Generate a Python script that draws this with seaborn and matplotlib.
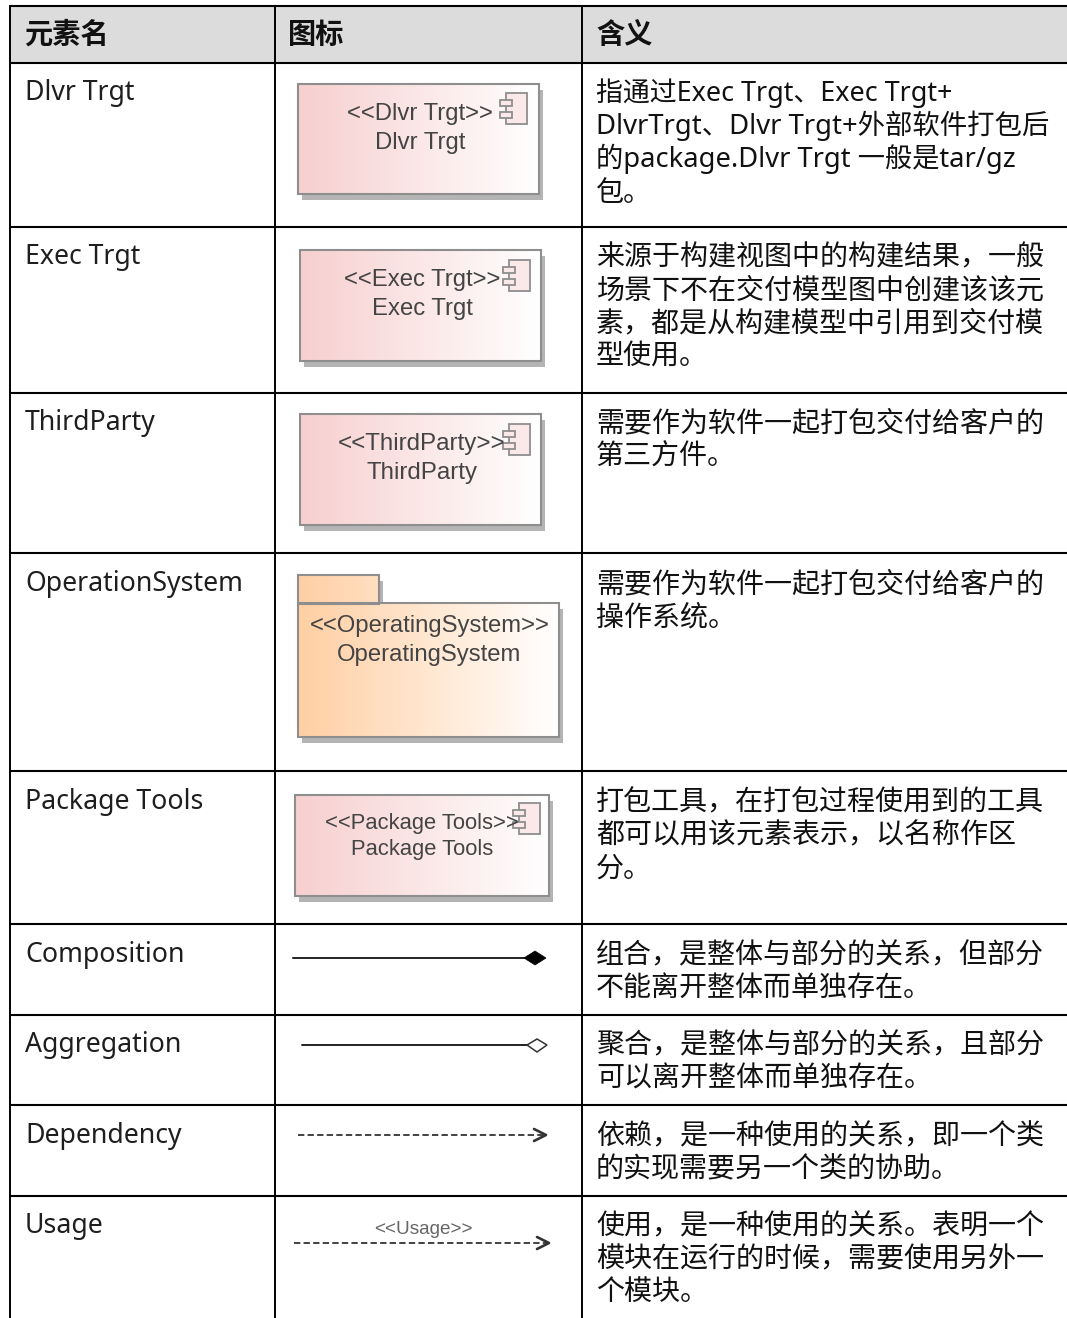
import numpy as np
import pandas as pd
import seaborn as sns
import matplotlib.pyplot as plt
from matplotlib.colors import LinearSegmentedColormap
from matplotlib.patches import Polygon, Rectangle

# Table text
headers = ['元素名', '图标', '含义']
element_names = ['Dlvr Trgt', 'Exec Trgt', 'ThirdParty', 'OperationSystem', 'Package Tools',
                 'Composition', 'Aggregation', 'Dependency', 'Usage']
meanings = [
    ['指通过Exec Trgt、Exec Trgt+', 'DlvrTrgt、Dlvr Trgt+外部软件打包后', '的package.Dlvr Trgt 一般是tar/gz', '包。'],
    ['来源于构建视图中的构建结果，一般', '场景下不在交付模型图中创建该该元', '素，都是从构建模型中引用到交付模', '型使用。'],
    ['需要作为软件一起打包交付给客户的', '第三方件。'],
    ['需要作为软件一起打包交付给客户的', '操作系统。'],
    ['打包工具，在打包过程使用到的工具', '都可以用该元素表示，以名称作区', '分。'],
    ['组合，是整体与部分的关系，但部分', '不能离开整体而单独存在。'],
    ['聚合，是整体与部分的关系，且部分', '可以离开整体而单独存在。'],
    ['依赖，是一种使用的关系，即一个类', '的实现需要另一个类的协助。'],
    ['使用，是一种使用的关系。表明一个', '模块在运行的时候，需要使用另外一', '个模块。'],
]
box_labels = ['Dlvr Trgt', 'Exec Trgt', 'ThirdParty', 'Package Tools']

# Table layout in image pixels
col_lines = [10, 275, 582]
row_lines = [5.5, 63, 227, 393, 553, 771, 924, 1015, 1105, 1196]
text_x = [25, 289, 597]
first_line_y = [91, 255, 421, 582, 800, 953, 1043, 1134, 1224]
line_step = 33.2

# mixed latin lines in the first row run a bit narrower than the plain ones
line_sizes = {(0, 0): 19.4, (0, 1): 19.75, (0, 2): 19.65}

# left, right, top, bottom, icon left, icon top, text centre, stereotype y, name y, font size
component_boxes = [
    (298, 539, 84, 194, 500, 93, 420, 114, 143, 17.2),
    (300, 541, 250, 361, 503, 260, 422, 280, 309, 17.2),
    (300, 541, 414, 525, 503, 424, 422, 444, 473, 17.4),
    (295, 549, 795, 896, 513, 803, 422, 823, 849, 15.8),
]

sns.set_theme(style='white')
plt.rcParams['font.family'] = ['Noto Sans', 'Noto Sans CJK SC', 'DejaVu Sans']

fig, ax = plt.subplots(figsize=(10.67, 13.18), dpi=100)
ax.set_position([0, 0, 1, 1])
ax.set_xlim(0, 1067)
ax.set_ylim(1318, 0)
ax.axis('off')

pink = LinearSegmentedColormap.from_list('pink_fade', ['#F7CFCF', '#FFFFFF'])
orange = LinearSegmentedColormap.from_list('orange_fade', ['#FFCFA3', '#FFFFFF'])
tab_fill = LinearSegmentedColormap.from_list('tab_fade', ['#FFCFA3', '#FFDFC2'])
grad = np.linspace(0, 1, 256).reshape(1, -1)
EDGE = '#8E8E8E'
SHADOW = '#B4B4B4'
TXT = '#444444'


def gradient_box(left, right, top, bottom, cmap, shadow=(4, 6)):
    ax.add_patch(Rectangle((left + shadow[0], top + shadow[1]), right - left, bottom - top,
                           fc=SHADOW, ec='none', zorder=2))
    ax.imshow(grad, extent=(left, right, bottom, top), cmap=cmap, aspect='auto', zorder=3,
              vmin=0, vmax=1)
    ax.add_patch(Rectangle((left, top), right - left, bottom - top, fc='none', ec=EDGE, lw=1.5, zorder=4))


def component_icon(left, top):
    ax.add_patch(Rectangle((left + 6, top), 21, 31, fc='#FBE9E9', ec=EDGE, lw=1.3, zorder=5))
    for dy in (7, 19):
        ax.add_patch(Rectangle((left, top + dy), 12, 6, fc='#FBE9E9', ec=EDGE, lw=1.3, zorder=6))


# header band and cell rules
ax.add_patch(Rectangle((10, 5), 1057, 58, fc='#DCDCDC', ec='none', zorder=0))
ax.hlines(row_lines, 10, 1067, color='black', lw=1.5, zorder=1)
ax.vlines(col_lines, 5, 1318, color='black', lw=1.4, zorder=1)

for x, label in zip(text_x, headers):
    ax.text(x - 1, 43, label, fontsize=20.3, fontweight='bold', va='baseline', ha='left', color='#111111',
            family='Noto Sans CJK SC')

for r, (name, y0, lines) in enumerate(zip(element_names, first_line_y, meanings)):
    ax.text(text_x[0], y0 + 9, name, fontsize=19.2, va='baseline', ha='left', color='#1E1E1E')
    for i, line in enumerate(lines):
        ax.text(text_x[2] - 1, y0 + i * line_step + 10, line, fontsize=line_sizes.get((r, i), 20.2),
                va='baseline', ha='left', color='#111111')

# component boxes
for label, box in zip(box_labels, component_boxes):
    left, right, top, bottom, ix, iy, cx, y1, y2, size = box
    gradient_box(left, right, top, bottom, pink)
    component_icon(ix, iy)
    ax.text(cx, y1, f'<<{label}>>', fontsize=size, family='Liberation Sans', color=TXT, ha='center', va='center', zorder=7)
    ax.text(cx, y2, label, fontsize=size, family='Liberation Sans', color=TXT, ha='center', va='center', zorder=7)

# operating system package
gradient_box(298, 379, 575, 604, tab_fill)
gradient_box(298, 559, 603, 737, orange)
ax.text(429.5, 626, '<<OperatingSystem>>', fontsize=17.2, family='Liberation Sans', color=TXT, ha='center', va='center', zorder=7)
ax.text(429.5, 655, 'OperatingSystem', fontsize=17.2, family='Liberation Sans', color=TXT, ha='center', va='center', zorder=7)
ax.set_xlim(0, 1067)
ax.set_ylim(1318, 0)

# connectors
conn = pd.DataFrame({'x': [293, 526], 'y': [958, 958]})
sns.lineplot(data=conn, x='x', y='y', color='#222222', lw=1.4, ax=ax, zorder=3)
ax.add_patch(Polygon([[524, 958], [535, 951], [546, 958], [535, 965]], fc='black', ec='black', lw=0.5, zorder=4))

conn = pd.DataFrame({'x': [302, 528], 'y': [1045, 1045]})
sns.lineplot(data=conn, x='x', y='y', color='#222222', lw=1.4, ax=ax, zorder=3)
ax.add_patch(Polygon([[527, 1045], [537, 1039], [547, 1045], [537, 1052]], fc='white', ec='#333333', lw=1.1, zorder=4))

for x0, x1, y in [(298, 546, 1135), (294, 549, 1243)]:
    conn = pd.DataFrame({'x': [x0, x1], 'y': [y, y]})
    sns.lineplot(data=conn, x='x', y='y', color='#333333', lw=1.3, linestyle=(0, (3.5, 1.8)), ax=ax, zorder=3)
    head = pd.DataFrame({'x': [x1 - 12, x1, x1 - 12], 'y': [y - 6, y, y + 6]})
    sns.lineplot(data=head, x='x', y='y', color='#333333', lw=1.9, sort=False, estimator=None, ax=ax, zorder=3)
ax.text(423, 1229.5, '<<Usage>>', fontsize=13.6, family='Liberation Sans', color='#666666', ha='center', va='center', zorder=7)

ax.axis('off')
fig.savefig('out.png', dpi=100)
